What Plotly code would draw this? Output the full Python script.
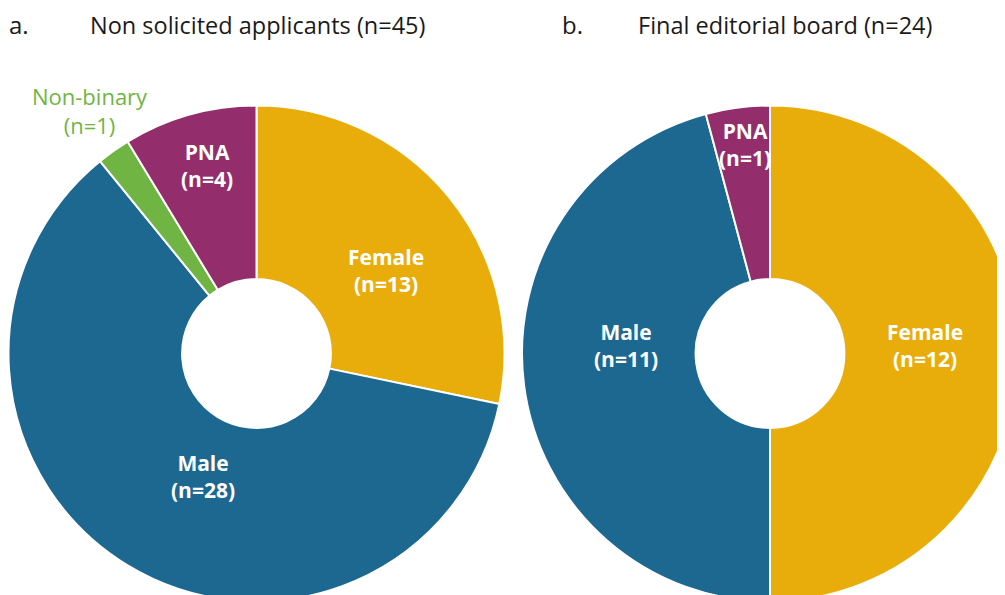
import plotly.graph_objects as go

# ---- data ----
titles = ["Non solicited applicants (n=45)", "Final editorial board (n=24)"]
panel_tags = ["a.", "b."]

labels_a = ["Female", "Male", "Non-binary", "PNA"]
values_a = [13, 28, 1, 4]

labels_b = ["Female", "Male", "PNA"]
values_b = [12, 11, 1]

colors = {"Female": "#E9AD0B", "Male": "#1C6891", "Non-binary": "#70B544", "PNA": "#942D6C"}

W, H = 1020, 600
FONT = "Open Sans"
R = 248  # outer radius in px

fig = go.Figure()

def add_pie(labels, values, cx, cy):
    fig.add_trace(go.Pie(
        labels=labels, values=values,
        marker=dict(colors=[colors[l] for l in labels], line=dict(color="white", width=2)),
        hole=0.3, sort=False, direction="clockwise", rotation=0,
        textinfo="none", hoverinfo="label+value",
        domain=dict(x=[(cx - R) / W, (cx + R) / W],
                    y=[(H - cy - R) / H, (H - cy + R) / H]),
        showlegend=False,
    ))

add_pie(labels_a, values_a, 248.5, 345.5)
add_pie(labels_b, values_b, 762, 345.5)

# label placement (pixel positions of text centres)
label_pos_a = {"Female": (378, 262), "Male": (195, 468), "Non-binary": (82, 103), "PNA": (199, 158)}
label_pos_b = {"Female": (917, 337), "Male": (618, 337), "PNA": (737, 137)}

def add_labels(labels, values, pos):
    for l, v in zip(labels, values):
        x, y = pos[l]
        nb = l == "Non-binary"
        fig.add_annotation(
            x=x / W, y=1 - y / H, xref="paper", yref="paper",
            text=f"{l}<br>(n={v})", showarrow=False,
            font=dict(family=FONT, size=22 if nb else 21,
                      color=colors["Non-binary"] if nb else "white",
                      weight="normal" if nb else "bold"),
            xanchor="center", yanchor="middle", align="center",
        )

add_labels(labels_a, values_a, label_pos_a)
add_labels(labels_b, values_b, label_pos_b)

# titles
for tag, title, xt, xtitle in zip(panel_tags, titles, [-1, 552], [80, 628]):
    fig.add_annotation(x=xt / W, y=1 - 17 / H, xref="paper", yref="paper", text=tag,
                       showarrow=False, xanchor="left", yanchor="middle",
                       font=dict(family=FONT, size=24, color="#1a1a1a"))
    fig.add_annotation(x=xtitle / W, y=1 - 17 / H, xref="paper", yref="paper", text=title,
                       showarrow=False, xanchor="left", yanchor="middle",
                       font=dict(family=FONT, size=23.5, color="#1a1a1a"))

fig.update_layout(
    width=W, height=H,
    margin=dict(l=0, r=0, t=0, b=0),
    paper_bgcolor="white", plot_bgcolor="white",
    font=dict(family=FONT),
)

fig.write_html(
    "out.html",
    post_script="document.documentElement.style.overflow='hidden';document.body.style.overflow='hidden';",
)
